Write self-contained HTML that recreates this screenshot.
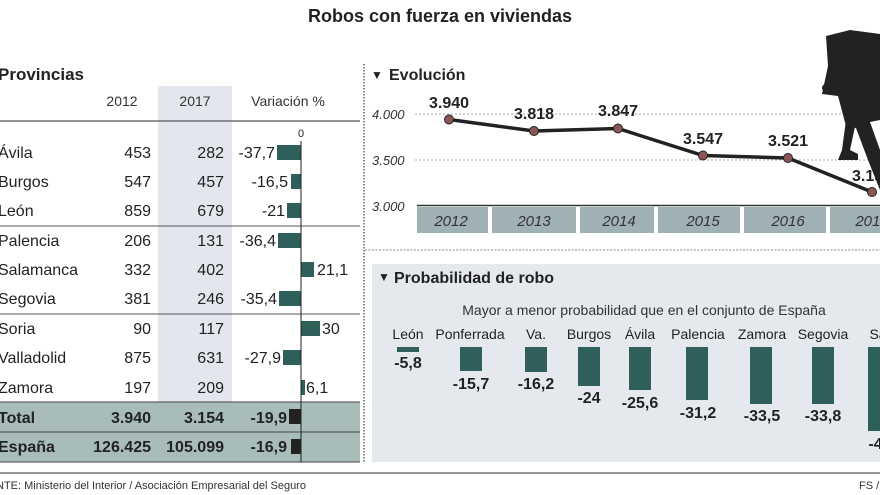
<!DOCTYPE html>
<html><head><meta charset="utf-8"><style>
body{margin:0;background:#fff}
svg{display:block;font-family:"Liberation Sans",Arial,sans-serif}
</style></head><body>
<svg width="880" height="495" viewBox="0 0 880 495" xmlns="http://www.w3.org/2000/svg">
<rect width="880" height="495" fill="#fff"/>
<text x="440" y="22" text-anchor="middle" font-size="18" font-weight="bold" fill="#222">Robos con fuerza en viviendas</text>

<!-- table -->
<rect x="158" y="86" width="74" height="316" fill="#e3e7ed"/>
<text x="-2" y="80" font-size="17" font-weight="bold" fill="#222">Provincias</text>
<g font-size="14" fill="#333" text-anchor="middle">
<text x="122" y="106">2012</text><text x="195" y="106">2017</text><text x="288" y="106">Variación %</text>
</g>
<line x1="0" y1="121" x2="360" y2="121" stroke="#555" stroke-width="1.2"/>
<text x="301" y="137" font-size="11" text-anchor="middle" fill="#222">0</text>
<rect x="0" y="402" width="360" height="30" fill="#a8bcba"/>
<rect x="0" y="432" width="360" height="30" fill="#a8bcba"/>
<line x1="0" y1="402" x2="360" y2="402" stroke="#444"/>
<line x1="0" y1="432" x2="360" y2="432" stroke="#444"/>
<line x1="0" y1="462" x2="360" y2="462" stroke="#444"/>
<line x1="0" y1="226" x2="360" y2="226" stroke="#555"/>
<line x1="0" y1="314" x2="360" y2="314" stroke="#555"/>
<g font-size="16" fill="#222">
<text x="-2" y="158">Ávila</text><text x="-2" y="187">Burgos</text><text x="-2" y="216">León</text>
<text x="-2" y="246">Palencia</text><text x="-2" y="275">Salamanca</text><text x="-2" y="304">Segovia</text>
<text x="-2" y="334">Soria</text><text x="-2" y="363">Valladolid</text><text x="-2" y="393">Zamora</text>
</g>
<g font-size="16" fill="#222" text-anchor="end">
<text x="151" y="158">453</text><text x="224" y="158">282</text><text x="275" y="158">-37,7</text>
<text x="151" y="187">547</text><text x="224" y="187">457</text><text x="288" y="187">-16,5</text>
<text x="151" y="216">859</text><text x="224" y="216">679</text><text x="285" y="216">-21</text>
<text x="151" y="246">206</text><text x="224" y="246">131</text><text x="276" y="246">-36,4</text>
<text x="151" y="275">332</text><text x="224" y="275">402</text>
<text x="151" y="304">381</text><text x="224" y="304">246</text><text x="277" y="304">-35,4</text>
<text x="151" y="334">90</text><text x="224" y="334">117</text>
<text x="151" y="363">875</text><text x="224" y="363">631</text><text x="281" y="363">-27,9</text>
<text x="151" y="393">197</text><text x="224" y="393">209</text>
</g>
<g font-size="16" fill="#222"><text x="317" y="275">21,1</text><text x="322" y="334">30</text><text x="306" y="393">6,1</text></g>
<g font-size="16" font-weight="bold" fill="#222">
<text x="-2" y="423">Total</text><text x="-2" y="452">España</text>
<g text-anchor="end">
<text x="151" y="423">3.940</text><text x="224" y="423">3.154</text><text x="287" y="423">-19,9</text>
<text x="151" y="452">126.425</text><text x="224" y="452">105.099</text><text x="287" y="452">-16,9</text>
</g></g>
<g fill="#2e5f5a">
<rect x="277" y="145" width="24" height="15"/><rect x="291" y="174" width="10" height="15"/><rect x="287" y="203" width="14" height="15"/>
<rect x="278" y="233" width="23" height="15"/><rect x="301" y="262" width="13" height="15"/><rect x="279" y="291" width="22" height="15"/>
<rect x="301" y="321" width="19" height="15"/><rect x="283" y="350" width="18" height="15"/><rect x="301" y="380" width="4" height="15"/>
</g>
<rect x="289" y="409" width="12" height="15" fill="#222"/><rect x="291" y="439" width="10" height="15" fill="#222"/>
<line x1="301" y1="141" x2="301" y2="462" stroke="#222" stroke-width="1"/>

<!-- Evolución -->
<line x1="364" y1="64" x2="364" y2="462" stroke="#666" stroke-width="1.5" stroke-dasharray="1.5,1.5"/>
<text x="371" y="79" font-size="12" fill="#222">▼</text>
<text x="389" y="80" font-size="16" font-weight="bold" fill="#222">Evolución</text>
<g font-size="13" font-style="italic" fill="#333">
<text x="372" y="119">4.000</text><text x="372" y="165">3.500</text><text x="372" y="211">3.000</text>
</g>
<g stroke="#aaa" stroke-dasharray="2,2"><line x1="415" y1="114" x2="880" y2="114"/><line x1="415" y1="160" x2="880" y2="160"/></g>
<line x1="417" y1="205.5" x2="880" y2="205.5" stroke="#333" stroke-width="1.5"/>
<g fill="#9fb1b5">
<rect x="417" y="207" width="71" height="26"/><rect x="492" y="207" width="84" height="26"/><rect x="580" y="207" width="74" height="26"/>
<rect x="658" y="207" width="82" height="26"/><rect x="744" y="207" width="82" height="26"/><rect x="830" y="207" width="50" height="26"/>
</g>
<g font-size="15" font-style="italic" fill="#333" text-anchor="middle">
<text x="451" y="226">2012</text><text x="534" y="226">2013</text><text x="619" y="226">2014</text><text x="703" y="226">2015</text><text x="788" y="226">2016</text><text x="872" y="226">2017</text>
</g>
<!-- silhouette -->
<g fill="#222">
<path d="M826 36 L850 30 L880 34 L880 120 L870 122 L880 150 L880 190 L868 160 L856 128 L846 126 L838 96 L822 94 L828 66 Z"/>
<path d="M846 120 L856 122 L850 150 L858 154 L858 160 L838 160 L842 150 Z"/>
<circle cx="826" cy="88" r="4"/>
</g>
<polyline points="449,119.5 534,131 618,128.5 703,155.5 788,158 872,192" fill="none" stroke="#222" stroke-width="3.5"/>
<g fill="#8b5656" stroke="#222" stroke-width="1">
<circle cx="449" cy="119.5" r="4.5"/><circle cx="534" cy="131" r="4.5"/><circle cx="618" cy="128.5" r="4.5"/><circle cx="703" cy="155.5" r="4.5"/><circle cx="788" cy="158" r="4.5"/><circle cx="872" cy="192" r="4.5"/>
</g>
<g font-size="16" font-weight="bold" fill="#222" text-anchor="middle">
<text x="449" y="108">3.940</text><text x="534" y="119">3.818</text><text x="618" y="116">3.847</text><text x="703" y="144">3.547</text><text x="788" y="146">3.521</text><text x="872" y="181">3.154</text>
</g>
<line x1="365" y1="250" x2="880" y2="250" stroke="#888" stroke-dasharray="2,1.5"/>

<!-- Probabilidad -->
<rect x="372" y="264" width="508" height="198" fill="#e5e8ed"/>
<text x="378" y="281" font-size="12" fill="#222">▼</text>
<text x="394" y="283" font-size="16" font-weight="bold" fill="#222">Probabilidad de robo</text>
<text x="644" y="315" font-size="14" text-anchor="middle" fill="#333">Mayor a menor probabilidad que en el conjunto de España</text>
<g font-size="14" fill="#222" text-anchor="middle">
<text x="408" y="339">León</text><text x="470" y="339">Ponferrada</text><text x="536" y="339">Va.</text><text x="589" y="339">Burgos</text><text x="640" y="339">Ávila</text><text x="698" y="339">Palencia</text><text x="762" y="339">Zamora</text><text x="823" y="339">Segovia</text><text x="878" y="339">Sa</text>
</g>
<g fill="#2e5f5a">
<rect x="397" y="347" width="22" height="5"/>
<rect x="460" y="347" width="22" height="24"/>
<rect x="525" y="347" width="22" height="25"/>
<rect x="578" y="347" width="22" height="39"/>
<rect x="629" y="347" width="22" height="43"/>
<rect x="686" y="347" width="22" height="53"/>
<rect x="750" y="347" width="22" height="57"/>
<rect x="812" y="347" width="22" height="57"/>
<rect x="868" y="347" width="12" height="84"/>
</g>
<g font-size="16" font-weight="bold" fill="#222" text-anchor="middle">
<text x="408" y="368">-5,8</text><text x="471" y="389">-15,7</text><text x="536" y="389">-16,2</text><text x="589" y="403">-24</text><text x="640" y="408">-25,6</text><text x="698" y="418">-31,2</text><text x="762" y="421">-33,5</text><text x="823" y="421">-33,8</text><text x="880" y="449">-47</text>
</g>

<line x1="0" y1="473" x2="880" y2="473" stroke="#777" stroke-width="1.5"/>
<text x="-4" y="489" font-size="11" fill="#333">NTE: Ministerio del Interior / Asociación Empresarial del Seguro</text>
<text x="859" y="489" font-size="11" fill="#333">FS / I</text>
</svg>
</body></html>
